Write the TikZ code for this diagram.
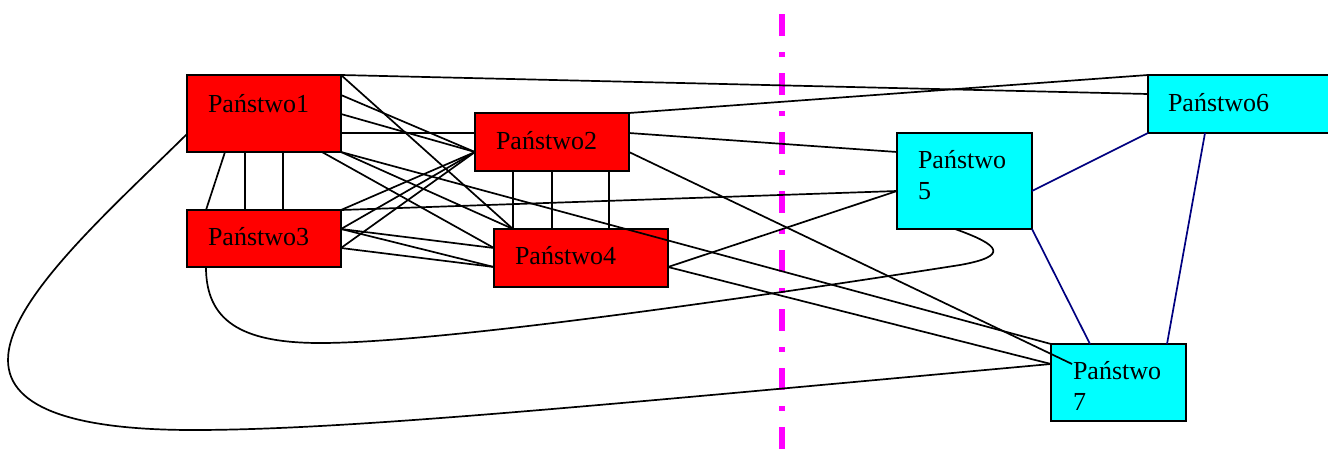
\documentclass[tikz,border=0pt]{standalone}
\usepackage{fontspec}
\setmainfont{Liberation Serif}
\usetikzlibrary{calc}
\definecolor{navyline}{RGB}{0,0,128}
\definecolor{magline}{RGB}{255,0,255}
\definecolor{boxred}{RGB}{255,0,0}
\definecolor{boxcyan}{RGB}{0,255,255}
\tikzset{
  box/.style={draw=black, line width=1.7pt, anchor=north west, inner sep=0pt, outer sep=0pt},
  redbox/.style={box, fill=boxred},
  cyanbox/.style={box, fill=boxcyan},
  label/.style={anchor=base west, inner sep=0pt, outer sep=0pt, align=left,
    font=\fontsize{26}{31}\selectfont},
  link/.style={draw=black, line width=1.7pt},
  bluelink/.style={draw=navyline, line width=1.7pt},
  divider/.style={draw=magline, line width=6pt, dash pattern=on 22pt off 16pt on 5pt off 16pt}
}
\begin{document}
\begin{tikzpicture}[x=1pt,y=-1pt]
\useasboundingbox (0,0) rectangle (1328,464);
\clip (0,0) rectangle (1328,464);
\fill[white] (0,0) rectangle (1328,464);

% divider
\coordinate (mtop) at (782,14);
\coordinate (mbot) at (782,470);
\draw[divider] (mtop) -- (mbot);

% boxes
\node[redbox, minimum width=154pt, minimum height=77pt] (p1) at (187,75) {};
\node[redbox, minimum width=154pt, minimum height=58pt] (p2) at (475,113) {};
\node[redbox, minimum width=154pt, minimum height=57pt] (p3) at (187,210) {};
\node[redbox, minimum width=174pt, minimum height=58pt] (p4) at (494,229) {};
\node[cyanbox, minimum width=135pt, minimum height=96pt] (p5) at (897,133) {};
\node[cyanbox, minimum width=192pt, minimum height=58pt] (p6) at (1148,75) {};
\node[cyanbox, minimum width=135pt, minimum height=77pt] (p7) at (1051,344) {};

% texts (base anchor = baseline of the last line)
\node[label] (t1) at ($(p1.north west)+(21,37)$) {Państwo1};
\node[label] (t2) at ($(p2.north west)+(21,36)$) {Państwo2};
\node[label] (t3) at ($(p3.north west)+(21,35)$) {Państwo3};
\node[label] (t4) at ($(p4.north west)+(21,35)$) {Państwo4};
\node[label] (t5) at ($(p5.north west)+(21,66)$) {Państwo\\5};
\node[label] (t6) at ($(p6.north west)+(20,36)$) {Państwo6};
\node[label] (t7) at ($(p7.north west)+(22,66)$) {Państwo\\7};

% Państwo1 connectors
\draw[link] (p1.north east) -- ($(p6.north west)+(0,19)$);
\draw[link] (p1.north east) -- ($(p4.north west)+(19,0)$);
\draw[link] ($(p1.north east)+(0,20)$) -- ($(p2.north west)+(0,39)$);
\draw[link] ($(p1.north east)+(0,39)$) -- ($(p2.north west)+(0,39)$);
\draw[link] ($(p1.north east)+(0,58)$) -- ($(p2.north west)+(0,20)$);
\draw[link] (p1.south east) -- ($(p4.north west)+(19,0)$);
\draw[link] ($(p1.south east)+(-19,0)$) -- ($(p4.north west)+(0,19)$);
\draw[link] (p1.south east) -- (p7.north west);
\draw[link] ($(p1.south west)+(38,0)$) -- ($(p3.north west)+(19,0)$);
\draw[link] ($(p1.south west)+(58,0)$) -- ($(p3.north west)+(58,0)$);
\draw[link] ($(p1.south west)+(96,0)$) -- ($(p3.north west)+(96,0)$);
\draw[link] ($(p1.north west)+(0,59)$) .. controls (110,210) and (8,300) .. (8,360)
  .. controls (8,410) and (80,430) .. (193,430)
  .. controls (350,430) and (600,405) .. ($(p7.north west)+(0,20)$);

% Państwo2 connectors
\draw[link] (p2.north east) -- (p6.north west);
\draw[link] ($(p2.north east)+(0,20)$) -- ($(p5.north west)+(0,19)$);
\draw[link] ($(p2.north east)+(0,39)$) -- ($(p7.north west)+(21,20)$);
\draw[link] ($(p2.south west)+(38,0)$) -- ($(p4.north west)+(19,0)$);
\draw[link] ($(p2.south west)+(77,0)$) -- ($(p4.north west)+(58,0)$);
\draw[link] ($(p2.south west)+(134,0)$) -- ($(p4.north west)+(115,0)$);

% Państwo3 connectors
\draw[link] (p3.north east) -- ($(p5.north west)+(0,58)$);
\draw[link] (p3.north east) -- ($(p2.north west)+(0,39)$);
\draw[link] ($(p3.north east)+(0,19)$) -- ($(p2.north west)+(0,39)$);
\draw[link] ($(p3.north east)+(0,19)$) -- ($(p4.north west)+(0,19)$);
\draw[link] ($(p3.north east)+(0,19)$) -- ($(p4.north west)+(0,38)$);
\draw[link] ($(p3.north east)+(0,38)$) -- ($(p2.north west)+(0,39)$);
\draw[link] ($(p3.north east)+(0,38)$) -- ($(p4.north west)+(0,38)$);
\draw[link] ($(p3.south west)+(19,0)$) .. controls (206,320) and (240,343) .. (320,343)
  .. controls (450,343) and (800,290) .. (960,265)
  .. controls (1010,256) and (1000,245) .. ($(p5.south west)+(58,0)$);

% Państwo4 connectors
\draw[link] ($(p4.north east)+(0,38)$) -- ($(p5.north west)+(0,58)$);
\draw[link] ($(p4.north east)+(0,38)$) -- ($(p7.north west)+(0,20)$);

% blue connectors
\draw[bluelink] ($(p5.north east)+(0,58)$) -- (p6.south west);
\draw[bluelink] (p5.south east) -- ($(p7.north west)+(39,0)$);
\draw[bluelink] ($(p6.south west)+(57,0)$) -- ($(p7.north west)+(116,0)$);
\end{tikzpicture}
\end{document}
